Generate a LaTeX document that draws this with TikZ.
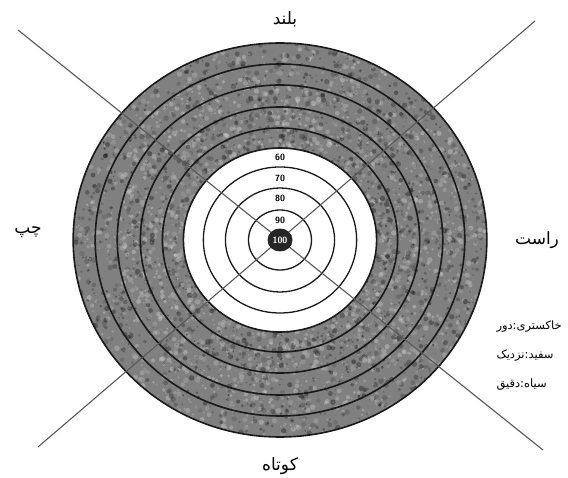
\documentclass[tikz,border=0pt]{standalone}
\usepackage{fontspec}
\newfontfamily\farsi[Script=Arabic]{DejaVu Sans}
\TeXXeTstate=1

\begin{document}
\begin{tikzpicture}[x=1pt,y=-1pt,line width=1pt]
\tikzset{
  ringline/.style={line width=1.6pt,black!90},
  scorelbl/.style={font=\sffamily\bfseries\fontsize{9}{9}\selectfont,inner sep=0pt},
  dirlbl/.style={font=\farsi\fontsize{17}{17}\selectfont,inner sep=0pt},
  keylbl/.style={font=\farsi\fontsize{11.5}{11.5}\selectfont,inner sep=0pt,anchor=west},
  crossline/.style={line width=1.1pt,black!65},
}
\useasboundingbox (0,0) rectangle (568,478);
\coordinate (c) at (280,240);
% ---------- 灰色环带 ----------
\fill[black!50,even odd rule] (c) ellipse[x radius=207pt,y radius=197pt]
  (c) ellipse[x radius=97pt,y radius=92pt];
% 斑点纹理（深浅不一的颗粒）
\begin{scope}[even odd rule]
\clip (c) ellipse[x radius=207pt,y radius=197pt]
  (c) ellipse[x radius=97pt,y radius=92pt];
\pgfmathsetseed{17}
\foreach \i in {1,...,4200}{
  \pgfmathsetmacro{\ang}{360*rnd}
  \pgfmathsetmacro{\rad}{88+112*rnd}
  \pgfmathsetmacro{\sz}{0.6+2.2*rnd}
  \pgfmathtruncatemacro{\shd}{rnd<0.5 ? 10+25*rnd : 65+35*rnd}
  \fill[black!\shd,opacity=0.35] ({280+1.05*\rad*cos(\ang)},{240+\rad*sin(\ang)}) circle[radius=\sz pt];
}
\end{scope}
% ---------- 圆环线 ----------
\foreach \r in {92,112,133,155,176,197}
  \draw[ringline] (c) ellipse[x radius={1.05*\r pt},y radius={\r pt}];
\foreach \r in {30,52,73}
  \draw[ringline,line width=1.3pt] (c) ellipse[x radius={1.05*\r pt},y radius={\r pt}];
% ---------- 对角线 ----------
\coordinate (tl) at (18,30);
\coordinate (br) at (543,450);
\coordinate (tr) at (535,21);
\coordinate (bl) at (38,447);
\draw[crossline] (tl) -- (br);
\draw[crossline] (tr) -- (bl);
% 靶心
\fill[black!85] (c) ellipse[x radius=12.5pt,y radius=11.5pt];
\node[scorelbl,text=white] (s100) at (c) {100};
\node[scorelbl] (s90) at (280,220) {90};
\node[scorelbl] (s80) at (280,198) {80};
\node[scorelbl] (s70) at (280,178) {70};
\node[scorelbl] (s60) at (280,157) {60};
% ---------- 方向 ----------
\node[dirlbl] (up) at (285,19) {\beginR بلند\endR};
\node[dirlbl] (left) at (28,232) {\beginR چپ\endR};
\node[dirlbl] (right) at (537,240) {\beginR راست\endR};
\node[dirlbl] (down) at (280,466) {\beginR کوتاه\endR};
% ---------- 图例 ----------
\node[keylbl] (keygray) at (496,327) {\beginR خاکستری:دور\endR};
\node[keylbl] (keywhite) at (496,356) {\beginR سفید:نزدیک\endR};
\node[keylbl] (keyblack) at (496,385) {\beginR سیاه:دقیق\endR};
\end{tikzpicture}
\end{document}
